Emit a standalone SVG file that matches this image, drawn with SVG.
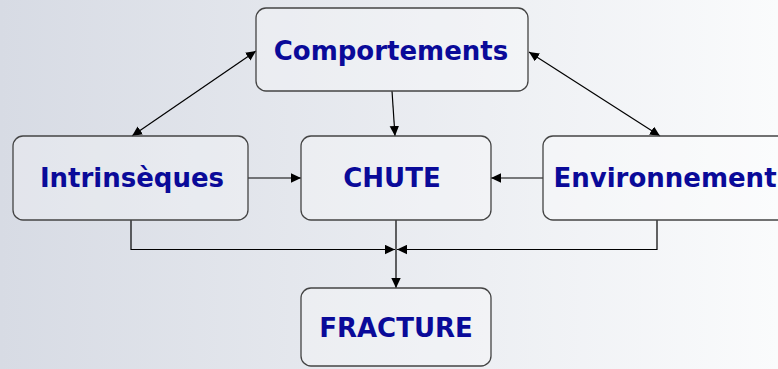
<svg xmlns="http://www.w3.org/2000/svg" width="778" height="369" viewBox="0 0 778 369">
<defs>
<linearGradient id="bg" x1="0" y1="0" x2="1" y2="0">
<stop offset="0" stop-color="#d7dbe4"/>
<stop offset="1" stop-color="#fafbfc"/>
</linearGradient>
<marker id="ah" viewBox="0 0 10 10" refX="10" refY="5" markerWidth="10" markerHeight="10" markerUnits="userSpaceOnUse" orient="auto-start-reverse">
<path d="M0,0.3 L10,5 L0,9.7 Z" fill="#000"/>
</marker>
<style>
.box{fill:#ffffff;fill-opacity:0.28;stroke:#444;stroke-width:1.3}
.lbl{font-family:"DejaVu Sans",Verdana,sans-serif;font-weight:bold;font-size:26px;fill:#0a0a99;text-anchor:middle}
.c{fill:none;stroke:#000;stroke-width:1.2}
</style>
</defs>
<rect width="778" height="369" fill="url(#bg)"/>
<g id="connectors">
<line class="c" x1="392" y1="91" x2="395" y2="136" marker-end="url(#ah)"/>
<line class="c" x1="256" y1="51" x2="132" y2="136" marker-start="url(#ah)" marker-end="url(#ah)"/>
<line class="c" x1="529" y1="52" x2="660" y2="136" marker-start="url(#ah)" marker-end="url(#ah)"/>
<line class="c" x1="248" y1="178" x2="301" y2="178" marker-end="url(#ah)"/>
<line class="c" x1="543" y1="178" x2="491" y2="178" marker-end="url(#ah)"/>
<polyline class="c" points="131,220 131,249.5 395,249.5" marker-end="url(#ah)"/>
<polyline class="c" points="657,220 657,249.5 397,249.5" marker-end="url(#ah)"/>
<line class="c" x1="396" y1="220" x2="396" y2="288" marker-end="url(#ah)"/>
</g>
<g id="comportements">
<rect class="box" x="256" y="8" width="272" height="83" rx="10"/>
<text class="lbl" x="391" y="60">Comportements</text>
</g>
<g id="intrinseques">
<rect class="box" x="13" y="136" width="235" height="84" rx="10"/>
<text class="lbl" x="132" y="187">Intrinsèques</text>
</g>
<g id="chute">
<rect class="box" x="301" y="136" width="190" height="84" rx="10"/>
<text class="lbl" x="392" y="187">CHUTE</text>
</g>
<g id="environnement">
<rect class="box" x="543" y="136" width="245" height="84" rx="10"/>
<text class="lbl" x="665" y="187">Environnement</text>
</g>
<g id="fracture">
<rect class="box" x="301" y="288" width="190" height="78" rx="10"/>
<text class="lbl" x="396" y="337">FRACTURE</text>
</g>
</svg>
